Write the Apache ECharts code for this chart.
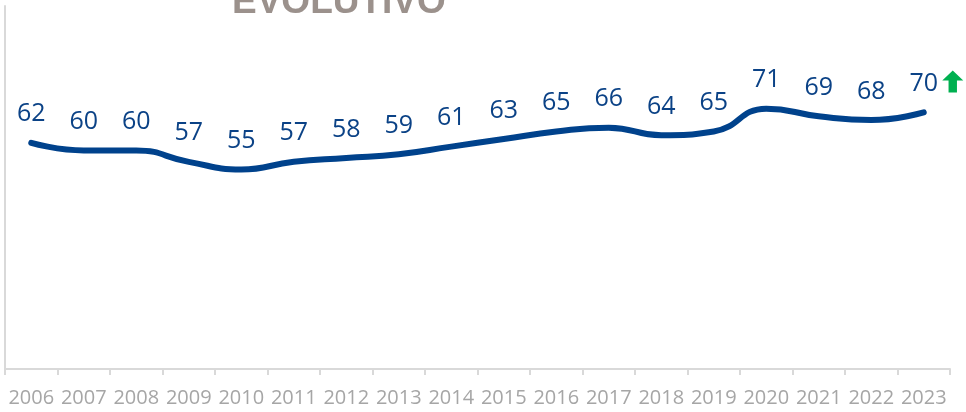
<!DOCTYPE html>
<html>
<head>
<meta charset="utf-8">
<script src="https://cdn.jsdelivr.net/npm/echarts@6/dist/echarts.min.js"></script>
<style>html,body{margin:0;padding:0;background:#fff;}#c{width:966px;height:412px;}</style>
</head>
<body>
<div id="c"></div>
<script>
const years = ['2006','2007','2008','2009','2010','2011','2012','2013','2014','2015','2016','2017','2018','2019','2020','2021','2022','2023'];
const values = [62,60,60,57,55,57,58,59,61,63,65,66,64,65,71,69,68,70];
const titleText = 'EVOLUTIVO';

const chart = echarts.init(document.getElementById('c'), null, {renderer:'canvas'});
chart.setOption({
  animation: false,
  backgroundColor: '#fff',
  grid: {left: 5, right: 16, top: 6, bottom: 43},
  graphic: [{
    type: 'text', left: 232, top: -16,
    style: {text: titleText, font: 'bold 37px "Liberation Sans", Arial, sans-serif', fill: '#9b918c'}
  }],
  xAxis: {
    type: 'category', data: years, boundaryGap: true,
    axisLine: {show: true, lineStyle: {color: '#d9d9d9', width: 2}},
    axisTick: {show: true, length: 6, lineStyle: {color: '#d9d9d9', width: 2}},
    axisLabel: {color: '#a6a6a6', fontSize: 20, fontFamily: '"Open Sans", sans-serif', margin: 19, interval: 0}
  },
  yAxis: {
    type: 'value', min: 2.5, max: 98,
    axisLine: {show: true, lineStyle: {color: '#d9d9d9', width: 2}},
    axisTick: {show: false}, axisLabel: {show: false}, splitLine: {show: false}
  },
  series: [{
    type: 'line', data: values, smooth: 0.5, symbol: 'circle', symbolSize: 2, showSymbol: true,
    itemStyle: {color: '#00428c'},
    lineStyle: {color: '#00428c', width: 6, cap: 'round'},
    label: {show: true, position: 'top', distance: 15, color: '#0b4286', fontSize: 25, fontFamily: '"Open Sans", sans-serif'},
    markPoint: {
      silent: true,
      data: [{coord: ['2023', 70], value: ''}],
      symbol: 'path://M10,0 L20,10 L14,10 L14,22 L6,22 L6,10 L0,10 Z',
      symbolSize: [21, 22],
      symbolOffset: [29, -31],
      itemStyle: {color: '#00b050'},
      label: {show: false}
    }
  }]
});
</script>
</body>
</html>
